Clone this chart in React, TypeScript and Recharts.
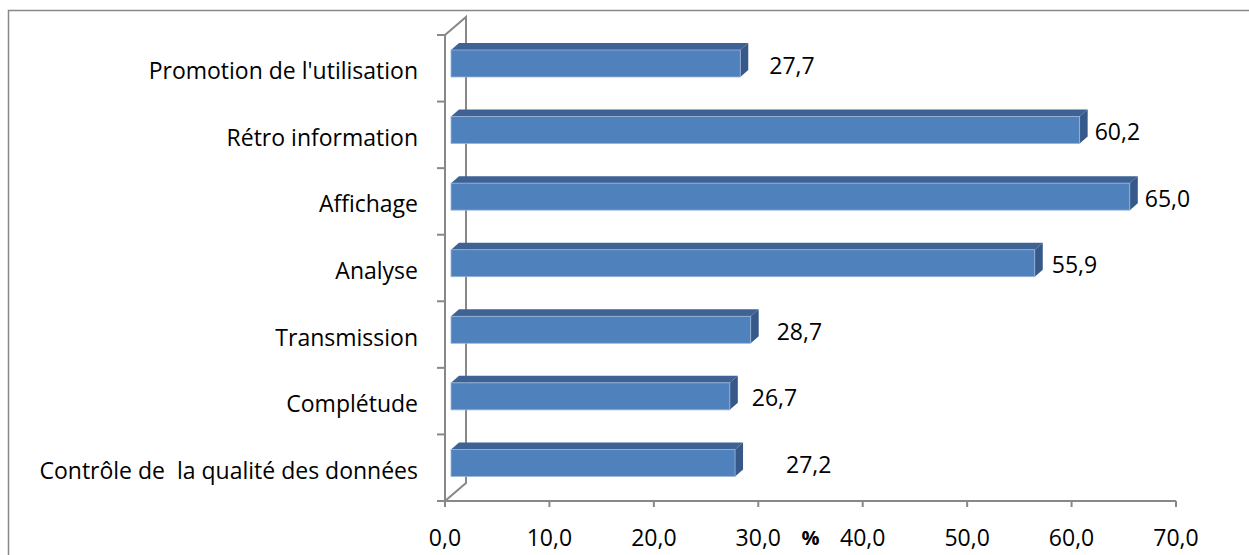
import React from 'react';
import { BarChart, Bar, XAxis, YAxis, LabelList, Customized } from 'recharts';

const CATEGORIES = [
  "Promotion de l'utilisation",
  'Rétro information',
  'Affichage',
  'Analyse',
  'Transmission',
  'Complétude',
  'Contrôle de  la qualité des données',
];
const VALUES = [27.7, 60.2, 65.0, 55.9, 28.7, 26.7, 27.2];
const X_TICKS = [0, 10, 20, 30, 40, 50, 60, 70];
const AXIS_TITLE = '%';

// extra space between each bar end and its value label (px)
const LABEL_GAP = [21, 7, 7, 9, 18, 14, 43];

const W = 1249;
const H = 555;
const M = { top: 35, right: 73, bottom: 0, left: 8 };
const Y_AXIS_W = 437;
const X_AXIS_H = 54;
const PLOT_L = M.left + Y_AXIS_W;
const PLOT_T = M.top;
const PLOT_B = H - X_AXIS_H - M.bottom;

const FRONT = '#4F81BD';
const TOP = '#3E6294';
const SIDE = '#36598A';
const AXIS = '#888888';
const FONT = '"Open Sans", Lato, sans-serif';
const FS = 23;

const BAR_H = 27;
const SHIFT_X = 6;
const SHIFT_Y = -5;
const DEPTH_X = 8;
const DEPTH_Y = 7;
const WALL_X = 21;
const WALL_Y = 18;

const data = CATEGORIES.map((name, i) => ({ name, value: VALUES[i] }));

const fmt = (v: number) => v.toFixed(1).replace('.', ',');

function Bar3D(props: any) {
  const { x, y, width } = props;
  const fx = x + SHIFT_X;
  const fy = y + SHIFT_Y;
  const rx = fx + width;
  return (
    <g>
      <polygon
        points={`${fx},${fy} ${fx + DEPTH_X},${fy - DEPTH_Y} ${rx + DEPTH_X},${fy - DEPTH_Y} ${rx},${fy}`}
        fill={TOP}
      />
      <polygon
        points={`${rx},${fy} ${rx + DEPTH_X},${fy - DEPTH_Y} ${rx + DEPTH_X},${fy - DEPTH_Y + BAR_H} ${rx},${fy + BAR_H}`}
        fill={SIDE}
      />
      <rect x={fx} y={fy} width={width} height={BAR_H} fill={FRONT} stroke="#9BB5D8" strokeWidth={0.8} />
    </g>
  );
}

function ValueLabel(props: any) {
  const { x, y, width, value, index } = props;
  const gap = LABEL_GAP[index] ?? 10;
  return (
    <text
      x={x + SHIFT_X + width + DEPTH_X + gap}
      y={y + SHIFT_Y + BAR_H / 2 + 1}
      fontFamily={FONT}
      fontSize={FS}
      fill="#000"
      dominantBaseline="central"
    >
      {fmt(value)}
    </text>
  );
}

function Frame() {
  const band = (PLOT_B - PLOT_T) / CATEGORIES.length;
  const ticks = [];
  for (let i = 0; i <= CATEGORIES.length; i++) {
    const ty = PLOT_T + i * band;
    ticks.push(<line key={i} x1={PLOT_L - 8} y1={ty} x2={PLOT_L} y2={ty} stroke={AXIS} strokeWidth={2} />);
  }
  return (
    <g>
      <rect x={8.5} y={10.5} width={W + 20} height={H + 20} fill="none" stroke={AXIS} strokeWidth={1.5} />
      <polyline
        points={`${PLOT_L},${PLOT_T} ${PLOT_L + WALL_X},${PLOT_T - WALL_Y} ${PLOT_L + WALL_X},${PLOT_B - WALL_Y} ${PLOT_L},${PLOT_B}`}
        fill="none"
        stroke={AXIS}
        strokeWidth={2}
      />
      {ticks}
    </g>
  );
}

function CatTick(props: any) {
  const { x, y, payload } = props;
  return (
    <text
      x={x - 19}
      y={y + 2}
      textAnchor="end"
      dominantBaseline="central"
      fontFamily={FONT}
      fontSize={FS}
      fill="#000"
      style={{ whiteSpace: 'pre' }}
    >
      {payload.value}
    </text>
  );
}

function NumTick(props: any) {
  const { x, y, payload } = props;
  return (
    <text x={x} y={y + 28} textAnchor="middle" dominantBaseline="central" fontFamily={FONT} fontSize={FS} fill="#000">
      {fmt(payload.value)}
    </text>
  );
}

function AxisTitle(props: any) {
  const vb = props.viewBox || {};
  return (
    <text
      x={vb.x + vb.width / 2}
      y={vb.y + 36}
      textAnchor="middle"
      dominantBaseline="central"
      fontFamily={FONT}
      fontSize={20}
      fontWeight="bold"
      fill="#000"
    >
      {AXIS_TITLE}
    </text>
  );
}

export default function App() {
  return (
    <div style={{ position: 'fixed', left: 0, top: 0, width: W, height: H, background: '#fff' }}>
      <BarChart width={W} height={H} data={data} layout="vertical" margin={M}>
        <Customized component={<Frame />} />
        <XAxis
          type="number"
          domain={[0, 70]}
          ticks={X_TICKS}
          height={X_AXIS_H}
          stroke={AXIS}
          axisLine={{ stroke: AXIS, strokeWidth: 2 }}
          tickLine={{ stroke: AXIS, strokeWidth: 2 }}
          tickSize={6}
          tick={<NumTick />}
          interval={0}
          label={<AxisTitle />}
        />
        <YAxis
          type="category"
          dataKey="name"
          width={Y_AXIS_W}
          axisLine={{ stroke: AXIS, strokeWidth: 2 }}
          tickLine={false}
          tick={<CatTick />}
          interval={0}
        />
        <Bar dataKey="value" barSize={BAR_H} shape={<Bar3D />} isAnimationActive={false}>
          <LabelList dataKey="value" content={<ValueLabel />} />
        </Bar>
      </BarChart>
    </div>
  );
}
